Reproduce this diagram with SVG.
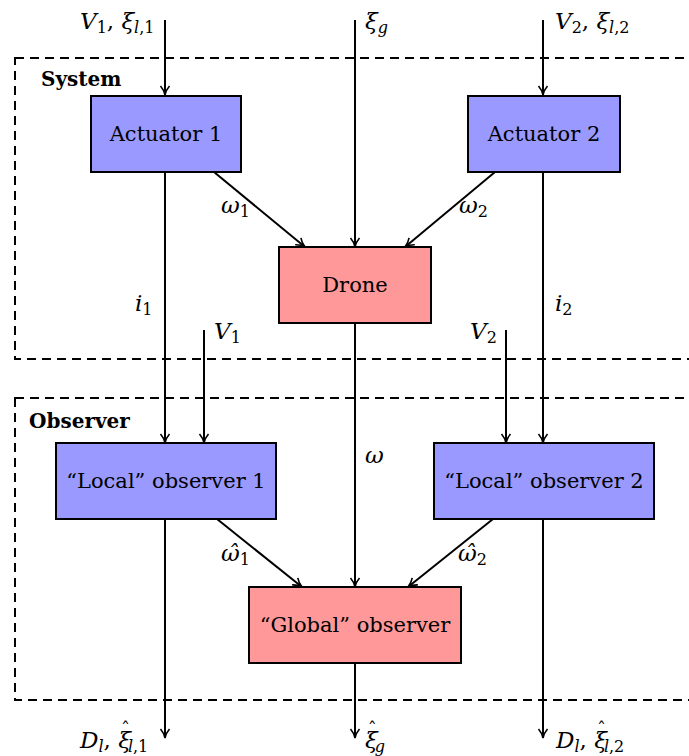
<svg xmlns="http://www.w3.org/2000/svg" width="689" height="756" viewBox="0 0 689 756">
<style>
.bx{stroke:#000;stroke-width:2}
.blue{fill:#9999ff}
.red{fill:#ff9999}
text{fill:#000;font-family:'DejaVu Serif',serif}
.t{font-size:21px}
.m{font-size:23px;font-style:italic}
.s{font-size:16px;font-style:italic}
.sn{font-size:16px;font-style:normal}
.h{font-size:18px;font-style:normal}
.b{font-size:20px;font-weight:bold}
.c{stroke:#000;stroke-width:2;fill:none;marker-end:url(#ah)}
.d{stroke:#000;stroke-width:2;fill:none;stroke-dasharray:9 6}
</style>
<defs>
<marker id="ah" viewBox="0 0 12 12" refX="10" refY="6" markerWidth="12" markerHeight="12" markerUnits="userSpaceOnUse" orient="auto">
<path d="M1,1.5 Q5,5 10,6 Q5,7 1,10.5" fill="none" stroke="#000" stroke-width="1.6"/>
</marker>
</defs>
<g id="frames">
<rect class="d" x="15" y="58" width="700" height="301"/>
<rect class="d" x="15" y="398" width="700" height="302"/>
<text class="b" x="41" y="86">System</text>
<text class="b" x="29" y="428">Observer</text>
</g>
<g id="connectors">
<line class="c" x1="165" y1="20" x2="165" y2="95"/>
<line class="c" x1="355" y1="20" x2="355" y2="247"/>
<line class="c" x1="543" y1="20" x2="543" y2="95"/>
<line class="c" x1="214" y1="172" x2="305" y2="247"/>
<line class="c" x1="495" y1="172" x2="405" y2="247"/>
<line class="c" x1="165" y1="172" x2="165" y2="443"/>
<line class="c" x1="543" y1="172" x2="543" y2="443"/>
<line class="c" x1="204" y1="330" x2="204" y2="443"/>
<line class="c" x1="506" y1="330" x2="506" y2="443"/>
<line class="c" x1="355" y1="323" x2="355" y2="587"/>
<line class="c" x1="217" y1="519" x2="302" y2="587"/>
<line class="c" x1="493" y1="519" x2="408" y2="587"/>
<line class="c" x1="165" y1="519" x2="165" y2="738"/>
<line class="c" x1="355" y1="662" x2="355" y2="738"/>
<line class="c" x1="543" y1="519" x2="543" y2="738"/>
</g>
<g id="labels">
<text class="m" x="80" y="29">V<tspan class="sn" dy="4">1</tspan><tspan dy="-4" font-style="normal">, </tspan>ξ<tspan class="s" dy="4">l</tspan><tspan class="sn">,1</tspan></text>
<text class="m" x="365" y="29">ξ<tspan class="s" dy="4">g</tspan></text>
<text class="m" x="555" y="29">V<tspan class="sn" dy="4">2</tspan><tspan dy="-4" font-style="normal">, </tspan>ξ<tspan class="s" dy="4">l</tspan><tspan class="sn">,2</tspan></text>
<text class="m" x="221" y="213">ω<tspan class="sn" dy="4">1</tspan></text>
<text class="m" x="459" y="213">ω<tspan class="sn" dy="4">2</tspan></text>
<text class="m" x="135" y="311">i<tspan class="sn" dy="4">1</tspan></text>
<text class="m" x="555" y="311">i<tspan class="sn" dy="4">2</tspan></text>
<text class="m" x="214" y="339">V<tspan class="sn" dy="4">1</tspan></text>
<text class="m" x="470" y="339">V<tspan class="sn" dy="4">2</tspan></text>
<text class="m" x="365" y="463">ω</text>
<text class="m" x="221" y="561">ω̂<tspan class="sn" dy="4">1</tspan></text>
<text class="m" x="458" y="561">ω̂<tspan class="sn" dy="4">2</tspan></text>
<text class="m" x="80" y="748">D<tspan class="s" dy="4">l</tspan><tspan dy="-4" font-style="normal">, </tspan>ξ<tspan class="h" dx="-10" dy="-12">ˆ</tspan><tspan class="s" dx="-2" dy="16">l</tspan><tspan class="sn">,1</tspan></text>
<text class="m" x="365" y="748">ξ<tspan class="h" dx="-10" dy="-12">ˆ</tspan><tspan class="s" dx="-2" dy="16">g</tspan></text>
<text class="m" x="556" y="748">D<tspan class="s" dy="4">l</tspan><tspan dy="-4" font-style="normal">, </tspan>ξ<tspan class="h" dx="-10" dy="-12">ˆ</tspan><tspan class="s" dx="-2" dy="16">l</tspan><tspan class="sn">,2</tspan></text>
</g>
<g id="actuator1">
<rect class="bx blue" x="91" y="96" width="150" height="76"/>
<text class="t" x="166" y="141" text-anchor="middle">Actuator 1</text>
</g>
<g id="actuator2">
<rect class="bx blue" x="468" y="96" width="152" height="76"/>
<text class="t" x="544" y="141" text-anchor="middle">Actuator 2</text>
</g>
<g id="drone">
<rect class="bx red" x="279" y="247" width="152" height="76"/>
<text class="t" x="355" y="292" text-anchor="middle">Drone</text>
</g>
<g id="local1">
<rect class="bx blue" x="56" y="443" width="220" height="76"/>
<text class="t" x="166" y="488" text-anchor="middle">“Local” observer 1</text>
</g>
<g id="local2">
<rect class="bx blue" x="434" y="443" width="220" height="76"/>
<text class="t" x="544" y="488" text-anchor="middle">“Local” observer 2</text>
</g>
<g id="global">
<rect class="bx red" x="249" y="587" width="212" height="76"/>
<text class="t" x="355" y="632" text-anchor="middle">“Global” observer</text>
</g>
</svg>
